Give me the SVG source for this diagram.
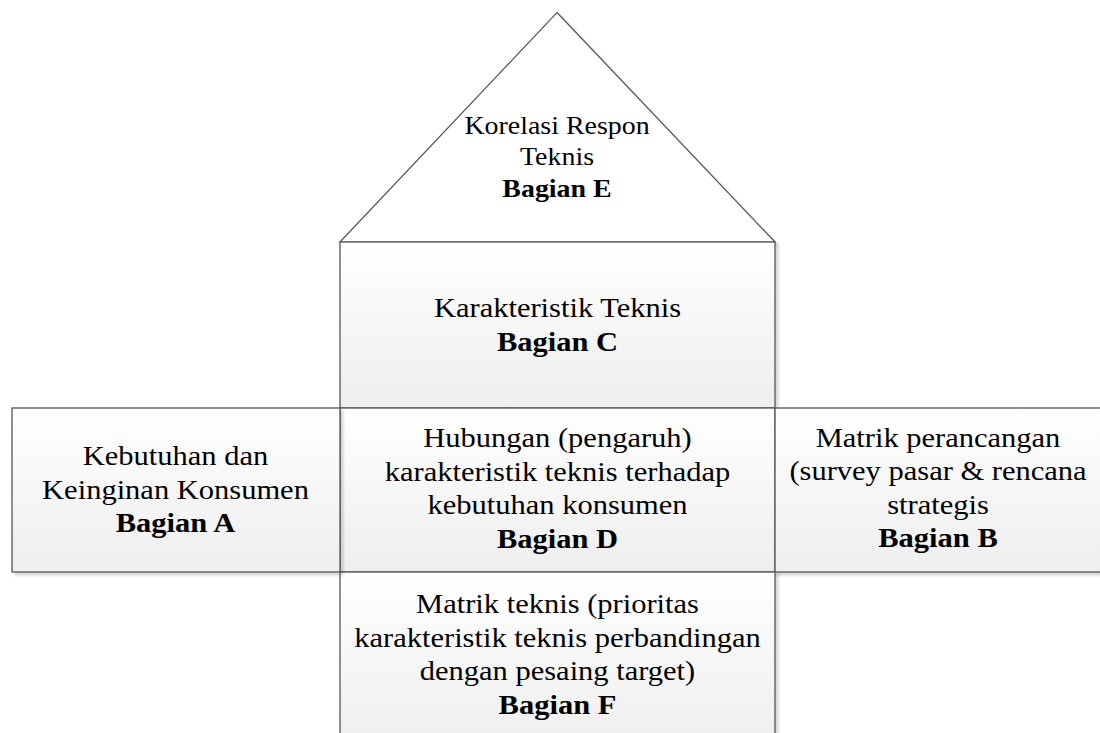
<svg xmlns="http://www.w3.org/2000/svg" width="1100" height="733" viewBox="0 0 1100 733">
<defs>
<linearGradient id="g" x1="0" y1="0" x2="0" y2="1">
<stop offset="0" stop-color="#ffffff"/>
<stop offset="1" stop-color="#eeeeee"/>
</linearGradient>
<filter id="sh" x="-5%" y="-5%" width="115%" height="115%">
<feDropShadow dx="3" dy="3" stdDeviation="1.2" flood-color="#000" flood-opacity="0.15"/>
</filter>
</defs>
<style>
.box{fill:url(#g);stroke:#555;stroke-width:1.3;filter:url(#sh)}
.roof{fill:#fff;stroke:#555;stroke-width:1.2;filter:url(#sh)}
text{font-family:"Liberation Serif","Times New Roman",serif;font-size:28px;fill:#000;text-anchor:middle}
.b{font-weight:bold}
.s{font-size:25.5px}
</style>
<rect width="1100" height="733" fill="#fff"/>
<g id="connectors"></g>
<g id="nodeE">
<polygon class="roof" points="557,12.5 775,242 340,242"/>
<g transform="translate(557,0) scale(1.095,1)">
<text class="s" x="0" y="134">Korelasi Respon</text>
<text class="s" x="0" y="165.5">Teknis</text>
<text class="s b" x="0" y="197">Bagian E</text>
</g>
</g>
<g id="nodeC">
<rect class="box" x="340" y="242" width="435" height="166"/>
<g transform="translate(557.5,0) scale(1.09,1)">
<text x="0" y="317.5">Karakteristik Teknis</text>
<text class="b" x="0" y="351.5">Bagian C</text>
</g>
</g>
<g id="nodeD">
<rect class="box" x="340" y="408" width="435" height="164"/>
<g transform="translate(557.5,0) scale(1.09,1)">
<text x="0" y="447.5">Hubungan (pengaruh)</text>
<text x="0" y="481">karakteristik teknis terhadap</text>
<text x="0" y="514.5">kebutuhan konsumen</text>
<text class="b" x="0" y="548">Bagian D</text>
</g>
</g>
<g id="nodeF">
<rect class="box" x="340" y="572" width="435" height="180"/>
<g transform="translate(557.5,0) scale(1.09,1)">
<text x="0" y="613.5">Matrik teknis (prioritas</text>
<text x="0" y="647">karakteristik teknis perbandingan</text>
<text x="0" y="680.5">dengan pesaing target)</text>
<text class="b" x="0" y="714">Bagian F</text>
</g>
</g>
<g id="nodeA">
<rect class="box" x="12" y="408" width="328" height="164"/>
<g transform="translate(175.5,0) scale(1.09,1)">
<text x="0" y="465">Kebutuhan dan</text>
<text x="0" y="499">Keinginan Konsumen</text>
<text class="b" x="0" y="532.5">Bagian A</text>
</g>
</g>
<g id="nodeB">
<rect class="box" x="775" y="408" width="340" height="164"/>
<g transform="translate(938,0) scale(1.09,1)">
<text x="0" y="447.5">Matrik perancangan</text>
<text x="0" y="480.5">(survey pasar &amp; rencana</text>
<text x="0" y="514">strategis</text>
<text class="b" x="0" y="547.5">Bagian B</text>
</g>
</g>
</svg>
